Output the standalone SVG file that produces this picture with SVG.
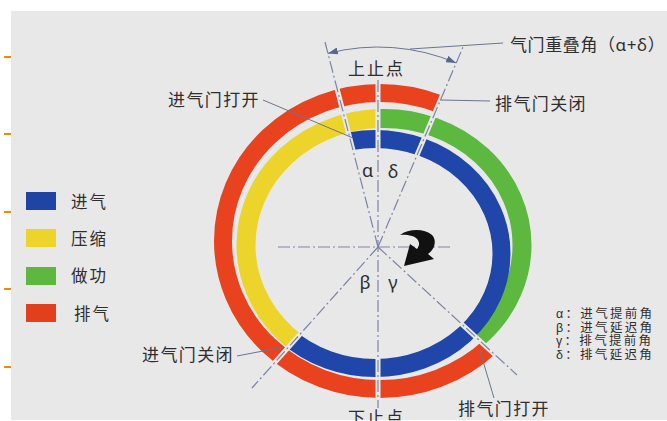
<svg xmlns="http://www.w3.org/2000/svg" width="667" height="421" viewBox="0 0 667 421">
<style>
.t{font-family:'Noto Sans','Noto Sans CJK SC',sans-serif;fill:#2e2e2e}
.lb{font-size:17px;letter-spacing:1.4px}
.gk{font-size:18px;text-anchor:middle}
.sm{font-family:'Liberation Sans','Noto Sans CJK SC',sans-serif;font-size:12.5px;letter-spacing:2.3px}
.ring{fill:none}
.gap{stroke:#e8e8e8;stroke-width:5;fill:none}
.dd{stroke:#7c84a4;stroke-width:1.2;stroke-dasharray:12 3 2 3;fill:none}
.ld{stroke:#6c7590;stroke-width:1;fill:none}
.tick{fill:#f08c00}
</style>
<defs>
<marker id="ah" markerUnits="userSpaceOnUse" markerWidth="10" markerHeight="7" refX="10" refY="3.5" orient="auto-start-reverse"><path d="M0,0 L10,3.5 L0,7 z" fill="#5a6690"/></marker>
<clipPath id="cBlue"><polygon points="378,247 302.9,-43.4 378,-53 678,247 378,547 178,470.6"/></clipPath>
<clipPath id="cYellow"><polygon points="378,247 178,470.6 78,247 378,-53"/></clipPath>
<clipPath id="cGreen"><polygon points="378,247 378,-53 678,247 598.8,450.1"/></clipPath>
<clipPath id="cRed"><polygon points="378,247 598.8,450.1 378,547 78,247 378,-53 495.2,-29.2"/></clipPath>
</defs>
<rect x="0" y="0" width="667" height="421" fill="#ffffff"/>
<rect x="11" y="11" width="656" height="409" fill="#e8e8e8"/>
<g id="ticks">
<rect class="tick" x="4" y="56" width="7" height="2"/>
<rect class="tick" x="4" y="133" width="7" height="2"/>
<rect class="tick" x="4" y="211" width="7" height="2"/>
<rect class="tick" x="4" y="288" width="7" height="2"/>
<rect class="tick" x="4" y="366" width="7" height="2"/>
</g>
<g id="legend">
<g id="lg-intake"><rect x="26" y="192" width="30" height="18" fill="#1f44a2"/><text class="t" x="71" y="208" font-size="16.5" letter-spacing="2">进气</text></g>
<g id="lg-compress"><rect x="26" y="229" width="30" height="18" fill="#ecd42a"/><text class="t" x="71" y="245" font-size="16.5" letter-spacing="2">压缩</text></g>
<g id="lg-power"><rect x="26" y="267" width="30" height="18" fill="#5cb83e"/><text class="t" x="71" y="282" font-size="16.5" letter-spacing="2">做功</text></g>
<g id="lg-exhaust"><rect x="26" y="304" width="30" height="18" fill="#e2401c"/><text class="t" x="74" y="320" font-size="16.5" letter-spacing="2">排气</text></g>
</g>
<g id="rings">
<ellipse id="ring-red" class="ring" cx="380" cy="241" rx="157" ry="148" stroke="#e8431e" stroke-width="18" clip-path="url(#cRed)"/>
<ellipse id="ring-yellow" class="ring" cx="384" cy="245" rx="138" ry="126.5" stroke="#ecd42a" stroke-width="19" clip-path="url(#cYellow)"/>
<ellipse id="ring-green" class="ring" cx="384" cy="245" rx="138" ry="126.5" stroke="#5cb83e" stroke-width="19" clip-path="url(#cGreen)"/>
<ellipse id="ring-blue" class="ring" cx="375" cy="253.5" rx="126.5" ry="114.5" stroke="#1f46a8" stroke-width="18" clip-path="url(#cBlue)"/>
</g>
<g id="connectors">
<line class="gap" x1="378" y1="80" x2="378" y2="402"/>
<line class="gap" x1="378" y1="247" x2="332.9" y2="72.7"/>
<line class="gap" x1="378" y1="247" x2="444.4" y2="90.6"/>
<line class="gap" x1="378" y1="247" x2="517" y2="375"/>
<line class="gap" x1="378" y1="247" x2="252" y2="388"/>
<line class="dd" x1="278" y1="247" x2="450" y2="247"/>
<line class="dd" x1="378" y1="80" x2="378" y2="408"/>
<line class="dd" x1="378" y1="247" x2="325" y2="42"/>
<line class="dd" x1="378" y1="247" x2="463" y2="47"/>
<line class="dd" x1="378" y1="247" x2="517" y2="375"/>
<line class="dd" x1="378" y1="247" x2="252" y2="388"/>
<path class="ld" d="M327.9,53.4 A200,200 0 0 1 456.1,62.9" stroke="#5a6690" marker-start="url(#ah)" marker-end="url(#ah)"/>
<line class="ld" x1="410" y1="49" x2="503" y2="43"/>
<line class="ld" x1="440" y1="100" x2="490" y2="101"/>
<line class="ld" x1="263" y1="100" x2="353" y2="138"/>
<line class="ld" x1="237" y1="356" x2="284" y2="347"/>
<line class="ld" x1="494" y1="398" x2="480" y2="351"/>
</g>
<g id="rotation-arrow">
<path d="M400,235 C408,229 424,228 432,235 C437,240 435,249 428,254 L434,259 L404,266 L410,244 L417,249 C421,244 419,238 412,236 C407,234.5 403,234.5 400,235 Z" fill="#111111"/>
</g>
<g id="angle-labels">
<text class="t gk" x="367.5" y="177">α</text>
<text class="t gk" x="393" y="178">δ</text>
<text class="t gk" x="365" y="289">β</text>
<text class="t gk" x="393" y="289">γ</text>
</g>
<g id="labels">
<g id="lbl-overlap"><text class="t" x="510" y="51" font-size="17" letter-spacing="0.6">气门重叠角（α+δ）</text></g>
<g id="lbl-tdc"><text class="t" x="348" y="75" font-size="17" letter-spacing="2">上止点</text></g>
<g id="lbl-bdc"><text class="t" x="348" y="424" font-size="17" letter-spacing="2">下止点</text></g>
<g id="lbl-evc"><text class="t lb" x="495" y="110">排气门关闭</text></g>
<g id="lbl-ivo"><text class="t lb" x="168" y="106">进气门打开</text></g>
<g id="lbl-ivc"><text class="t lb" x="142" y="361">进气门关闭</text></g>
<g id="lbl-evo"><text class="t lb" x="458" y="415">排气门打开</text></g>
</g>
<g id="angle-legend">
<text class="t sm"><tspan x="556" y="318">α：进气提前角</tspan><tspan x="556" y="331.7">β：进气延迟角</tspan><tspan x="556" y="345.4">γ：排气提前角</tspan><tspan x="556" y="359">δ：排气延迟角</tspan></text>
</g>
</svg>
